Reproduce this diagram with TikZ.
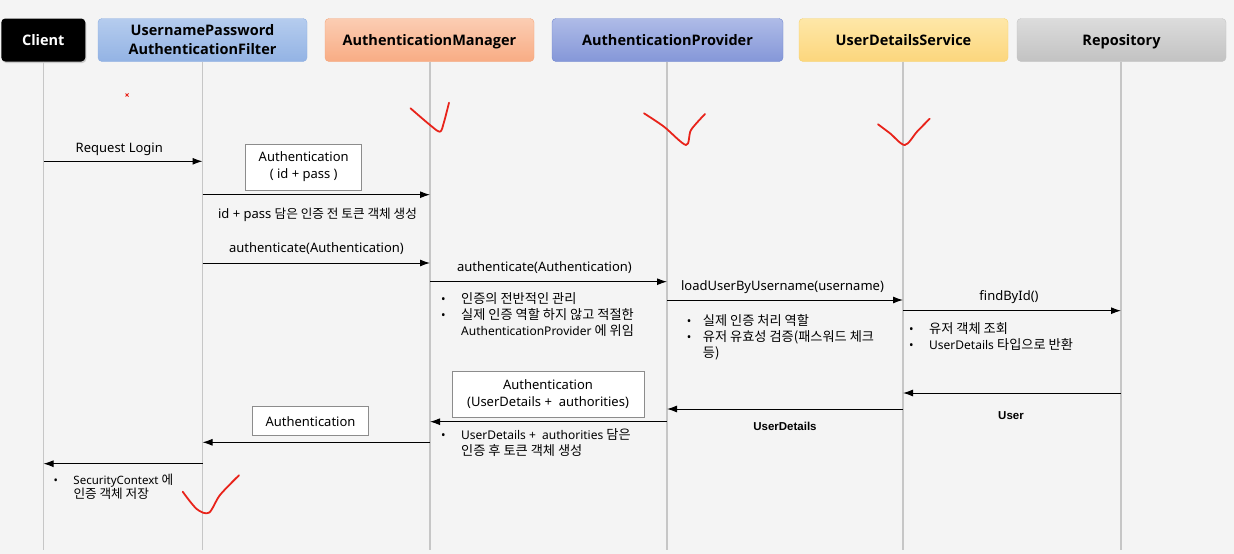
\documentclass[tikz,border=0pt]{standalone}
\usepackage{fontspec}
\setmainfont{Noto Sans}
\newfontfamily\hangul{Noto Sans CJK KR}[Scale=1.1]
\newfontfamily\retfont{Liberation Sans}
\newfontfamily\headfont{Open Sans}
\usetikzlibrary{arrows.meta,shadows}

\definecolor{bg}{HTML}{F4F4F4}
\definecolor{lifegray}{HTML}{C6C6C6}
\definecolor{boxgray}{HTML}{8C8C8C}
\definecolor{checkred}{HTML}{E8231A}
\definecolor{fltTop}{HTML}{B5CCEE}
\definecolor{fltBot}{HTML}{93B3E4}
\definecolor{fltLine}{HTML}{8DAFE2}
\definecolor{mgrTop}{HTML}{FBCDB3}
\definecolor{mgrBot}{HTML}{F8AC84}
\definecolor{mgrLine}{HTML}{F4A479}
\definecolor{prvTop}{HTML}{AEBBE7}
\definecolor{prvBot}{HTML}{8597D8}
\definecolor{prvLine}{HTML}{6F86CF}
\definecolor{udsTop}{HTML}{FEE7A8}
\definecolor{udsBot}{HTML}{FCD67C}
\definecolor{udsLine}{HTML}{F6D36E}
\definecolor{repTop}{HTML}{DCDCDC}
\definecolor{repBot}{HTML}{C2C2C2}
\definecolor{repLine}{HTML}{C4C4C4}

\tikzset{
  head/.style={rounded corners=4pt,minimum height=43,inner sep=0pt,align=center,
    font=\headfont\fontsize{14.5}{19}\selectfont\bfseries},
  onehead/.style={head,text height=13pt,text depth=1.5pt},
  life/.style={draw=lifegray,line width=1.3pt},
  msg/.style={-{Latex[length=10pt,width=7pt]},line width=1pt},
  authbox/.style={draw=boxgray,fill=white,line width=1pt,inner sep=0pt,align=center,
    font=\fontsize{13}{17}\selectfont},
  lbl/.style={anchor=base,inner sep=0pt,font=\fontsize{13}{16}\selectfont},
  retlbl/.style={anchor=base,inner sep=0pt,font=\retfont\fontsize{11.5}{13}\selectfont\bfseries},
  notes/.style={anchor=base west,inner sep=0pt,font=\fontsize{12}{16}\selectfont},
  check/.style={draw=checkred,line width=1.8pt,line cap=round,line join=round},
}

\begin{document}
\begin{tikzpicture}[x=1pt,y=-1pt]

%SPACING
\fill[bg] (0,0) rectangle (1234,554);
\useasboundingbox (0,0) rectangle (1234,554);
%SPACING

\node[onehead,fill=black,text=white,minimum width=84,
  drop shadow={shadow xshift=1pt,shadow yshift=-1.5pt,opacity=0.35}](cl) at (43.3,40) {Client};
\node[head,draw=fltLine,top color=fltTop,bottom color=fltBot,minimum width=209](flt) at (202.5,40) {UsernamePassword\\AuthenticationFilter};
\node[onehead,draw=mgrLine,top color=mgrTop,bottom color=mgrBot,minimum width=209](mgr) at (429.5,40) {AuthenticationManager};
\node[onehead,draw=prvLine,top color=prvTop,bottom color=prvBot,minimum width=231](prv) at (667.5,40) {AuthenticationProvider};
\node[onehead,draw=udsLine,top color=udsTop,bottom color=udsBot,minimum width=209](uds) at (903.5,40) {UserDetailsService};
\node[onehead,draw=repLine,top color=repTop,bottom color=repBot,minimum width=209](rep) at (1121.5,40) {Repository};

%LIFELINES
\coordinate (clb) at (43.5,550);
\coordinate (fltb) at (202.5,550);
\coordinate (mgrb) at (430,550);
\coordinate (prvb) at (667,550);
\coordinate (udsb) at (903,550);
\coordinate (repb) at (1121,550);
\draw[life] (43.5,61.7) -- (clb);
\draw[life] (flt.south) -- (fltb);
\draw[life] (430,61.7) -- (mgrb);
\draw[life] (667,61.7) -- (prvb);
\draw[life] (903,61.7) -- (udsb);
\draw[life] (1121,61.7) -- (repb);

%REQUESTS
\coordinate (m1a) at (43.5,161.3);  \coordinate (m1b) at (202.5,161.3);
\coordinate (m2a) at (202.5,194.7); \coordinate (m2b) at (430,194.7);
\coordinate (m3a) at (202.5,263);   \coordinate (m3b) at (430,263);
\coordinate (m4a) at (430,281.7);   \coordinate (m4b) at (667,281.7);
\coordinate (m5a) at (667,300);     \coordinate (m5b) at (903,300);
\coordinate (m6a) at (903,310.7);   \coordinate (m6b) at (1121,310.7);

\draw[msg] (m1a) -- (m1b);
\draw[msg] (m2a) -- (m2b);
\draw[msg] (m3a) -- (m3b);
\draw[msg] (m4a) -- (m4b);
\draw[msg] (m5a) -- (m5b);
\draw[msg] (m6a) -- (m6b);

%RETURNS
\coordinate (r1a) at (1121,393);    \coordinate (r1b) at (903,393);
\coordinate (r2a) at (903,409);     \coordinate (r2b) at (667,409);
\coordinate (r3a) at (667,421.7);   \coordinate (r3b) at (430,421.7);
\coordinate (r4a) at (430,442.3);   \coordinate (r4b) at (202.5,442.3);
\coordinate (r5a) at (202.5,463.7); \coordinate (r5b) at (43.5,463.7);

\draw[msg] (r1a) -- (r1b);
\draw[msg] (r2a) -- (r2b);
\draw[msg] (r3a) -- (r3b);
\draw[msg] (r4a) -- (r4b);
\draw[msg] (r5a) -- (r5b);

%LABELS
\node[lbl](t1) at (119.3,152) {Request Login};
\node[lbl](t2) at (317.5,218) {id + pass {\hangul\fontsize{11.5}{16}\selectfont 담은 인증 전 토큰 객체 생성}};
\node[lbl](t3) at (316.5,252) {authenticate(Authentication)};
\node[lbl](t4) at (544.5,271.7) {authenticate(Authentication)};
\node[lbl](t5) at (782.5,290) {loadUserByUsername(username)};
\node[lbl](t6) at (1009,300) {findById()};
\node[retlbl](t7) at (1011,419) {User};
\node[retlbl](t8) at (785,430.7) {UserDetails};

\node[authbox,minimum width=116,minimum height=46](a1) at (303.7,167) {Authentication\\( id + pass )};
\node[authbox,minimum width=192,minimum height=46](a2) at (548,394) {Authentication\\(UserDetails +\ \ authorities)};
\node[authbox,minimum width=116,minimum height=29](a3) at (310.5,421.2) {Authentication};

%NOTES
\node[notes](n1) at (441,303) {\begin{tabular}[t]{@{}p{20pt}@{}l@{}}
•&{\hangul 인증의 전반적인 관리}\\
•&{\hangul 실제 인증 역할 하지 않고 적절한}\\
&AuthenticationProvider {\hangul 에 위임}
\end{tabular}};
\node[notes](n2) at (686.7,325) {\begin{tabular}[t]{@{}p{16pt}@{}l@{}}
•&{\hangul 실제 인증 처리 역할}\\
•&{\hangul 유저 유효성 검증(패스워드 체크}\\
&{\hangul 등)}
\end{tabular}};
\node[notes](n3) at (909,333) {\begin{tabular}[t]{@{}p{20pt}@{}l@{}}
•&{\hangul 유저 객체 조회}\\
•&UserDetails {\hangul 타입으로 반환}
\end{tabular}};
\node[notes](n4) at (441,439) {\begin{tabular}[t]{@{}p{20pt}@{}l@{}}
•&UserDetails +\ \ authorities {\hangul 담은}\\
&{\hangul 인증 후 토큰 객체 생성}
\end{tabular}};
\node[notes,font=\fontsize{11.5}{14}\selectfont](n5) at (53.3,484) {\begin{tabular}[t]{@{}p{20pt}@{}l@{}}
•&SecurityContext {\hangul 에}\\
&{\hangul 인증 객체 저장}
\end{tabular}};

%MARKS
\draw[checkred,line width=0.8pt] (125.5,93.5) -- (128.5,96.5) (128.5,93.5) -- (125.5,96.5);
\draw[check] plot[smooth,tension=0.5] coordinates {(410.5,108.3) (430,125) (440,131.7) (444,122) (449,102.7)};
\draw[check] plot[smooth,tension=0.5] coordinates {(644,113.3) (664,126.7) (686,145) (691,130) (705,114)};
\draw[check] plot[smooth,tension=0.5] coordinates {(878,124.3) (890,133.3) (904.8,145) (917,131.7) (929.7,118.7)};
\draw[check] plot[smooth,tension=0.5] coordinates {(182.7,491.7) (196.7,509) (209,512.7) (220,495) (239,475.3)};

\end{tikzpicture}
\end{document}
